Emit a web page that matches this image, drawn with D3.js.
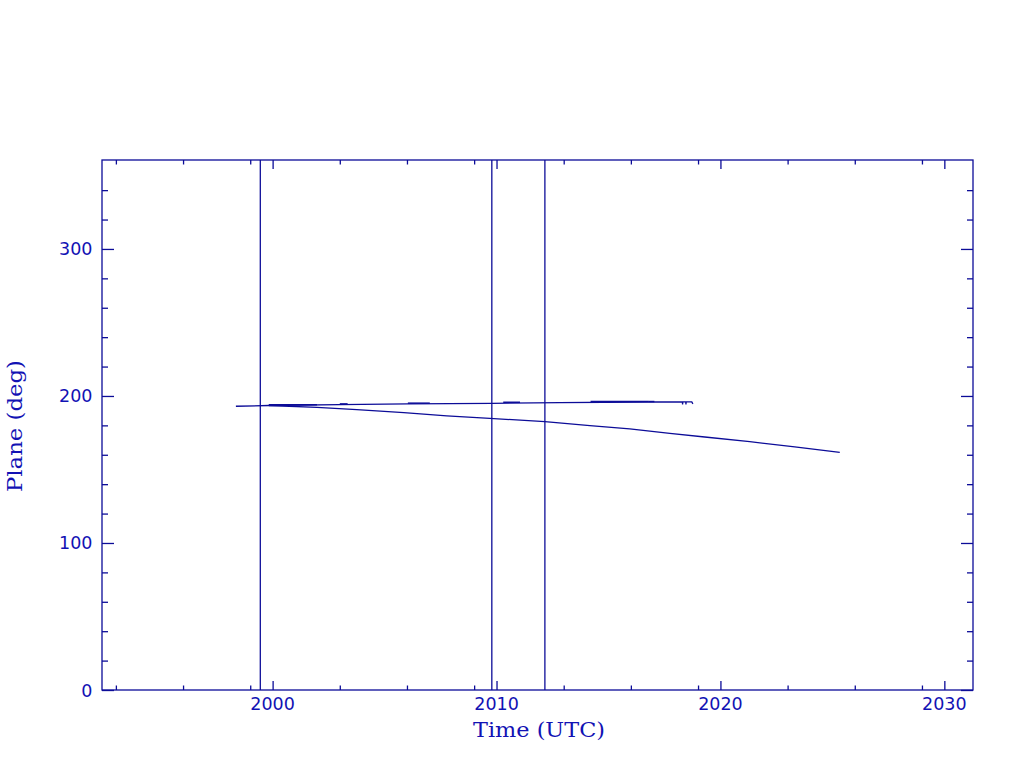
<!DOCTYPE html>
<html>
<head>
<meta charset="utf-8">
<script src="https://cdn.jsdelivr.net/npm/d3@7"></script>
<style>
  html, body { margin: 0; padding: 0; background: #ffffff; }
  svg { display: block; }
</style>
</head>
<body>
<script>
// ---- Data ----
const xMajorTicks = [2000, 2010, 2020, 2030];
const xMinorTicks = [1993, 1996, 1999, 2003, 2006, 2009, 2013, 2016, 2019, 2023, 2026, 2029];
const yMajorTicks = [0, 100, 200, 300];
const yMinorTicks = [20, 40, 60, 80, 120, 140, 160, 180, 220, 240, 260, 280, 320, 340];

// vertical event markers (decimal years)
const eventYears = [1999.45, 2009.79, 2012.16];

// upper series: [year, plane deg]
const upperYears  = [1998.36, 1999.83, 2003.00, 2006.04, 2009.79, 2012.83, 2016.76, 2018.30, 2018.31, 2018.32, 2018.45, 2018.46, 2018.47, 2018.72, 2018.77];
const upperValues = [193.0,   193.5,   194.1,   194.6,   195.0,   195.5,   195.9,   196.0,   194.2,   196.0,   196.0,   194.2,   196.0,   196.0,   194.6];

// overlapping dense stretches of the upper series: [startYear, endYear, value]
const denseStart  = [1999.83, 2003.00, 2006.04, 2010.30, 2014.20, 2016.80];
const denseEnd    = [2001.98, 2003.35, 2007.02, 2011.05, 2016.80, 2017.05];
const denseValue  = [193.6,   194.2,   194.7,   195.3,   195.9,   195.8];

// lower series
const lowerYears  = [1999.83, 2001.98, 2003.76, 2005.86, 2007.78, 2009.70, 2012.16, 2014.17, 2015.95, 2017.74, 2019.30, 2021.31, 2023.32, 2025.33];
const lowerValues = [193.5,   192.3,   190.7,   188.6,   186.4,   184.8,   182.5,   179.8,   177.6,   174.6,   172.1,   168.9,   165.3,   161.7];

// ---- Layout ----
const W = 1024, H = 768;
const pLeft = 102, pRight = 973, pTop = 160, pBottom = 690;
const col = "#0c0c98";
const textCol = "#1212b4";

const svg = d3.select("body").append("svg").attr("width", W).attr("height", H);

const x = d3.scaleLinear().domain([1992.38, 2031.28]).range([pLeft, pRight]);
const y = d3.scaleLinear().domain([0, 360.5]).range([pBottom, pTop]);

const g = svg.append("g");

// frame
g.append("rect").attr("x", pLeft).attr("y", pTop).attr("width", pRight - pLeft).attr("height", pBottom - pTop)
  .attr("fill", "none").attr("stroke", col).attr("stroke-width", 1.3);

// ticks via axes
function tickAxis(axisFn, scale, ticks, size, transform) {
  const a = axisFn(scale).tickValues(ticks).tickSize(size).tickFormat("");
  const sel = g.append("g").attr("transform", transform).call(a);
  sel.select(".domain").remove();
  sel.selectAll("line").attr("stroke", col).attr("stroke-width", 1.3);
  return sel;
}
tickAxis(d3.axisTop, x, xMajorTicks, 9, `translate(0,${pBottom})`);
tickAxis(d3.axisTop, x, xMinorTicks, 4.5, `translate(0,${pBottom})`);
tickAxis(d3.axisBottom, x, xMajorTicks, 9, `translate(0,${pTop})`);
tickAxis(d3.axisBottom, x, xMinorTicks, 4.5, `translate(0,${pTop})`);
tickAxis(d3.axisRight, y, yMajorTicks, 12, `translate(${pLeft},0)`);
tickAxis(d3.axisRight, y, yMinorTicks, 6, `translate(${pLeft},0)`);
tickAxis(d3.axisLeft, y, yMajorTicks, 12, `translate(${pRight},0)`);
tickAxis(d3.axisLeft, y, yMinorTicks, 6, `translate(${pRight},0)`);

// tick labels
const labFont = "DejaVu Sans, sans-serif";
g.selectAll(".xl").data(xMajorTicks).enter().append("text")
  .attr("x", d => x(d)).attr("y", 710)
  .attr("text-anchor", "middle").attr("font-family", labFont).attr("font-size", 17.5)
  .attr("fill", textCol).text(d => d);
g.selectAll(".yl").data(yMajorTicks).enter().append("text")
  .attr("x", 92.5).attr("y", d => y(d) + 6.5)
  .attr("text-anchor", "end").attr("font-family", labFont).attr("font-size", 17.5)
  .attr("fill", textCol).text(d => d);

// axis titles
const titleFont = "DejaVu Serif, serif";
g.append("text").attr("x", 539).attr("y", 737)
  .attr("text-anchor", "middle").attr("font-family", titleFont).attr("font-size", 20)
  .attr("textLength", 132).attr("lengthAdjust", "spacingAndGlyphs")
  .attr("fill", textCol).text("Time (UTC)");
g.append("text").attr("transform", `translate(22,426) rotate(-90)`)
  .attr("text-anchor", "middle").attr("font-family", titleFont).attr("font-size", 20)
  .attr("textLength", 132).attr("lengthAdjust", "spacingAndGlyphs")
  .attr("fill", textCol).text("Plane (deg)");

// event lines
g.selectAll(".ev").data(eventYears).enter().append("line")
  .attr("x1", d => x(d)).attr("x2", d => x(d)).attr("y1", pTop).attr("y2", pBottom)
  .attr("stroke", col).attr("stroke-width", 1.3);

// series
const line = d3.line().x(d => x(d[0])).y(d => y(d[1]));
const upper = upperYears.map((t, i) => [t, upperValues[i]]);
const lower = lowerYears.map((t, i) => [t, lowerValues[i]]);

g.append("path").datum(upper).attr("d", line).attr("fill", "none")
  .attr("stroke", col).attr("stroke-width", 1.3);
g.append("path").datum(lower).attr("d", line).attr("fill", "none")
  .attr("stroke", col).attr("stroke-width", 1.3);

g.selectAll(".dense").data(denseStart.map((s, i) => [s, denseEnd[i], denseValue[i]])).enter()
  .append("line")
  .attr("x1", d => x(d[0])).attr("x2", d => x(d[1]))
  .attr("y1", d => y(d[2]) - 0.6).attr("y2", d => y(d[2]) - 0.6)
  .attr("stroke", col).attr("stroke-width", 1.5);
</script>
</body>
</html>
